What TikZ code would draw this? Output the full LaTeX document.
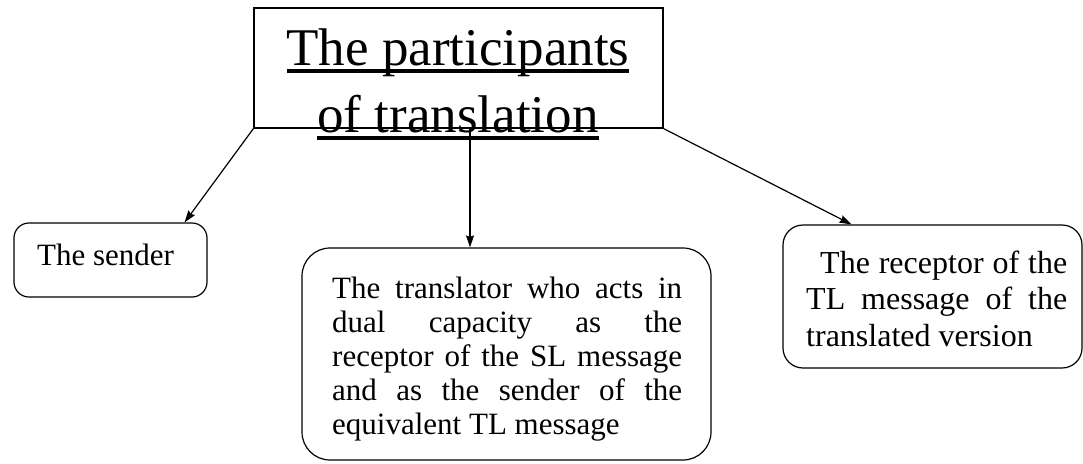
\documentclass[tikz,border=0pt]{standalone}
\usepackage{fontspec}
\setmainfont{Liberation Serif}
\usetikzlibrary{arrows.meta}
\hbadness=10000
\newcommand\ulbar[1]{\sbox0{#1}\rlap{\rule[-8pt]{\wd0}{4.3pt}}\usebox0}
\tikzset{
  boxline/.style={draw, line width=1.2pt, inner sep=0pt},
  txt/.style={inner sep=0pt, anchor=base west},
  arr/.style={line width=1.2pt, -{Stealth[length=12pt,width=8pt,inset=1.5pt]}},
}
\begin{document}
\begin{tikzpicture}[x=1pt,y=-1pt]
\useasboundingbox (0,0) rectangle (1083,463);
% boxes
\node[boxline, minimum width=409pt, minimum height=120pt] (title) at (458.5,68) {};
\node[boxline, rounded corners=15pt, minimum width=193pt, minimum height=74pt] (sender) at (110.5,260) {};
\node[boxline, rounded corners=28pt, minimum width=409pt, minimum height=212pt] (translator) at (506.5,354) {};
\node[boxline, rounded corners=20pt, minimum width=299pt, minimum height=143pt] (receptor) at (932.5,296.5) {};
% texts
\node[inner sep=0pt, anchor=base, font=\fontsize{53}{67}\selectfont] (titletext) at (458,65)
  {\vtop{\baselineskip=67pt
    \hbox to 400pt{\hfil\ulbar{The participants}\hfil}
    \hbox to 400pt{\hfil\ulbar{of translation}\hfil}}};
\node[txt, font=\fontsize{31}{34}\selectfont] (sendertext) at (37,265) {The sender};
\node[txt, font=\fontsize{31}{34}\selectfont] (translatortext) at (332,298)
  {\vtop{\baselineskip=34pt
    \hbox to 350pt{The translator who acts in}
    \hbox to 350pt{dual capacity as the}
    \hbox to 350pt{receptor of the SL message}
    \hbox to 350pt{and as the sender of the}
    \hbox{equivalent TL message}}};
\node[txt, font=\fontsize{32}{36.5}\selectfont] (receptortext) at (806,273)
  {\vtop{\baselineskip=36.5pt
    \hbox to 261pt{\hspace*{14pt}The receptor of the}
    \hbox to 261pt{TL message of the}
    \hbox{translated version}}};
% connectors
\draw[arr] (title.south west) -- ([xshift=-23pt]sender.north east);
\draw[arr] ([xshift=11.5pt]title.south) -- ([xshift=-36.5pt]translator.north);
\draw[arr] (title.south east) -- ([xshift=69pt]receptor.north west);
\end{tikzpicture}
\end{document}
